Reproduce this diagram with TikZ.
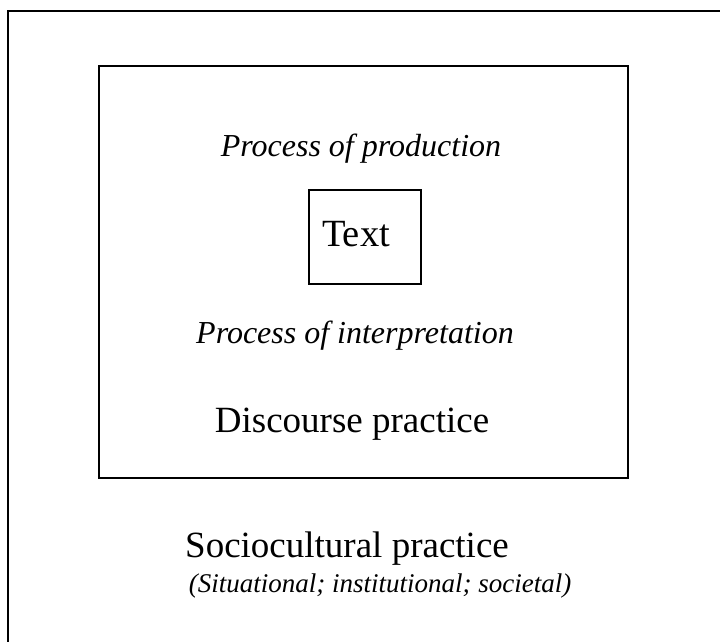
\documentclass[tikz,border=0pt]{standalone}
\usepackage{fontspec}
\setmainfont{Liberation Serif}
\begin{document}
\begin{tikzpicture}[x=1pt,y=-1pt,
  frame/.style={draw=black,line width=2pt},
  bigtxt/.style={inner sep=0pt,anchor=base,font=\fontsize{37}{44}\selectfont},
  ittxt/.style={inner sep=0pt,anchor=base,font=\fontsize{32}{38}\selectfont\itshape},
  smalltxt/.style={inner sep=0pt,anchor=base,font=\fontsize{27}{32}\selectfont\itshape}]
\useasboundingbox (0,0) rectangle (720,642);
% outer frame (only top and left edges visible)
\coordinate (otr) at (720,11);
\coordinate (otl) at (8,11);
\coordinate (obl) at (8,642);
\draw[frame] (otr) -- (otl) -- (obl);
% inner box
\node[frame,minimum width=529pt,minimum height=411pt,inner sep=0pt] (inner) at (363,272) {};
% text box
\node[frame,minimum width=112pt,minimum height=94pt,inner sep=0pt] (textbox) at (365,237) {};
\node[bigtxt,font=\fontsize{38.5}{46}\selectfont] (text) at (356,246) {Text};
\node[ittxt] (prod) at (361,156) {Process of production};
\node[ittxt] (interp) at (355,343) {Process of interpretation};
\node[bigtxt] (disc) at (352,432) {Discourse practice};
\node[bigtxt] (socio) at (347,557) {Sociocultural practice};
\node[smalltxt] (sit) at (380,592) {(Situational; institutional; societal)};
\end{tikzpicture}
\end{document}
